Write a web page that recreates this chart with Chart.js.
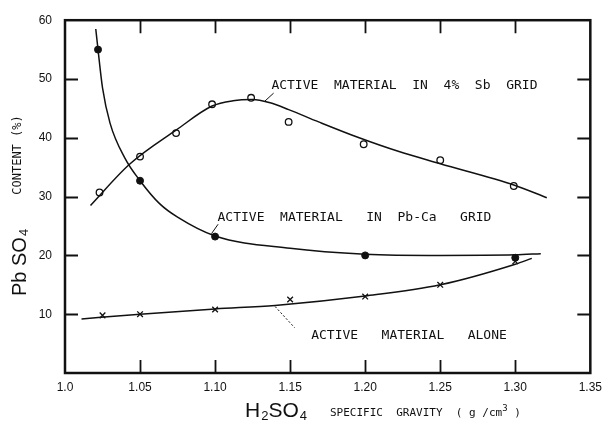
<!DOCTYPE html>
<html>
<head>
<meta charset="utf-8">
<script src="https://cdn.jsdelivr.net/npm/chart.js@4/dist/chart.umd.min.js"></script>
<style>
  html, body { margin: 0; padding: 0; background: #fff; }
  #c { display: block; }
</style>
</head>
<body>
<canvas id="c" width="609" height="423"></canvas>
<script>
// H2SO4 specific gravity (g/cm3) vs PbSO4 content (%)

// Measured points
const sbX = [1.023, 1.05, 1.074, 1.098, 1.124, 1.149, 1.199, 1.25, 1.299];
const sbY = [30.7, 36.8, 40.8, 45.7, 46.8, 42.7, 38.9, 36.2, 31.8];

const caX = [1.022, 1.05, 1.10, 1.20, 1.30];
const caY = [55.0, 32.7, 23.2, 20.0, 19.6];

const aloneX = [1.025, 1.05, 1.10, 1.15, 1.20, 1.25, 1.30];
const aloneY = [9.8, 10.0, 10.8, 12.5, 13.0, 15.0, 19.0];

// Hand-drawn trend curves through the points
const sbCurveX = [1.017, 1.043, 1.074, 1.098, 1.112, 1.125, 1.136, 1.149, 1.169, 1.196, 1.222, 1.25, 1.30, 1.321];
const sbCurveY = [28.5, 35.5, 41.3, 45.4, 46.3, 46.5, 46.0, 44.8, 42.7, 40.0, 37.7, 35.6, 31.9, 29.8];

const caCurveX = [1.0205, 1.022, 1.025, 1.03, 1.04, 1.05, 1.063, 1.075, 1.10, 1.15, 1.20, 1.25, 1.30, 1.317];
const caCurveY = [58.5, 55.0, 48.5, 42.5, 36.5, 32.7, 28.8, 26.5, 23.3, 21.2, 20.2, 20.0, 20.1, 20.3];

const aloneCurveX = [1.011, 1.05, 1.10, 1.14, 1.20, 1.25, 1.30, 1.311];
const aloneCurveY = [9.2, 10.0, 10.9, 11.5, 13.1, 15.0, 18.5, 19.5];

// Axis tick labels
const xTickLabels = ['1.0', '1.05', '1.10', '1.15', '1.20', '1.25', '1.30', '1.35'];
const yTickLabels = ['', '10', '20', '30', '40', '50', '60'];

// Curve labels (anchored in data units) and their leader lines
const curveLabels = [
  { text: 'ACTIVE  MATERIAL  IN  4%  Sb  GRID', x: 1.1375, y: 48.8, lead: [1.133, 46.2, 1.139, 47.6], dash: [] },
  { text: 'ACTIVE  MATERIAL   IN  Pb-Ca   GRID', x: 1.1016, y: 26.5, lead: [1.0976, 23.7, 1.102, 25.3], dash: [] },
  { text: 'ACTIVE   MATERIAL   ALONE', x: 1.164, y: 6.3, lead: [1.140, 11.3, 1.153, 7.7], dash: [2, 2] }
];

const toPts = (xs, ys) => xs.map((x, i) => ({ x: x, y: ys[i] }));

const INK = '#111';
const MONO = '"DejaVu Sans Mono", "Liberation Mono", monospace';
const SANS = '"Liberation Sans", "DejaVu Sans", Arial, sans-serif';

const framePlugin = {
  id: 'frameAndNotes',
  afterDraw(chart) {
    const ctx = chart.ctx;
    const a = chart.chartArea;
    const xs = chart.scales.x, ys = chart.scales.y;
    ctx.save();
    ctx.strokeStyle = INK;
    ctx.fillStyle = INK;

    // frame
    ctx.lineWidth = 2.5;
    ctx.strokeRect(a.left, a.top, a.right - a.left, a.bottom - a.top);

    // inward ticks on all four sides
    ctx.lineWidth = 1.8;
    const tl = 13;
    for (let v = 1.05; v < 1.349; v += 0.05) {
      const px = Math.round(xs.getPixelForValue(v)) + 0.5;
      ctx.beginPath();
      ctx.moveTo(px, a.bottom); ctx.lineTo(px, a.bottom - tl);
      ctx.moveTo(px, a.top); ctx.lineTo(px, a.top + tl);
      ctx.stroke();
    }
    for (let v = 10; v < 60; v += 10) {
      const py = Math.round(ys.getPixelForValue(v)) + 0.5;
      ctx.beginPath();
      ctx.moveTo(a.left, py); ctx.lineTo(a.left + tl, py);
      ctx.moveTo(a.right, py); ctx.lineTo(a.right - tl, py);
      ctx.stroke();
    }

    // curve labels and leader lines
    ctx.font = '13px ' + MONO;
    ctx.textBaseline = 'middle';
    ctx.textAlign = 'left';
    curveLabels.forEach(l => {
      ctx.fillText(l.text, xs.getPixelForValue(l.x), ys.getPixelForValue(l.y));
      ctx.lineWidth = 1;
      ctx.setLineDash(l.dash);
      ctx.beginPath();
      ctx.moveTo(xs.getPixelForValue(l.lead[0]), ys.getPixelForValue(l.lead[1]));
      ctx.lineTo(xs.getPixelForValue(l.lead[2]), ys.getPixelForValue(l.lead[3]));
      ctx.stroke();
      ctx.setLineDash([]);
    });

    // x axis title: H2SO4 SPECIFIC GRAVITY (g/cm3)
    let x = 245;
    const by = 417;
    ctx.textBaseline = 'alphabetic';
    const big = (t) => { ctx.font = '21px ' + SANS; ctx.fillText(t, x, by); x += ctx.measureText(t).width; };
    const sub = (t) => { ctx.font = '13px ' + SANS; ctx.fillText(t, x + 1, by + 3); x += ctx.measureText(t).width + 1; };
    big('H'); sub('2'); big('SO'); sub('4');
    ctx.font = '11px ' + MONO;
    ctx.fillText('SPECIFIC  GRAVITY  ( g /cm', 330, by - 1);
    let sx = 330 + ctx.measureText('SPECIFIC  GRAVITY  ( g /cm').width;
    ctx.font = '9px ' + MONO;
    ctx.fillText('3', sx, by - 6);
    sx += ctx.measureText('3').width;
    ctx.font = '11px ' + MONO;
    ctx.fillText(' )', sx, by - 1);

    // y axis title: PbSO4 CONTENT (%)
    ctx.translate(18, 0);
    ctx.rotate(-Math.PI / 2);
    ctx.textBaseline = 'middle';
    ctx.font = '12px ' + MONO;
    ctx.textAlign = 'center';
    ctx.fillText('CONTENT (%)', -155, 0);
    ctx.textAlign = 'left';
    let yy = -296;
    ctx.font = '20px ' + SANS;
    ctx.fillText('Pb SO', yy, 2);
    yy += ctx.measureText('Pb SO').width;
    ctx.font = '13px ' + SANS;
    ctx.fillText('4', yy + 1, 6);
    ctx.restore();
  }
};

new Chart(document.getElementById('c'), {
  type: 'scatter',
  data: {
    datasets: [
      { data: toPts(sbCurveX, sbCurveY), showLine: true, pointRadius: 0, borderColor: INK, borderWidth: 1.5, cubicInterpolationMode: 'monotone' },
      { data: toPts(caCurveX, caCurveY), showLine: true, pointRadius: 0, borderColor: INK, borderWidth: 1.5, cubicInterpolationMode: 'monotone' },
      { data: toPts(aloneCurveX, aloneCurveY), showLine: true, pointRadius: 0, borderColor: INK, borderWidth: 1.5, cubicInterpolationMode: 'monotone' },
      { data: toPts(sbX, sbY), pointStyle: 'circle', pointRadius: 3.3, pointBorderWidth: 1.3, pointBorderColor: INK, pointBackgroundColor: '#fff' },
      { data: toPts(caX, caY), pointStyle: 'circle', pointRadius: 3.5, pointBorderWidth: 1, pointBorderColor: INK, pointBackgroundColor: INK },
      { data: toPts(aloneX, aloneY), pointStyle: 'crossRot', pointRadius: 4, pointBorderWidth: 1.3, pointBorderColor: INK }
    ]
  },
  options: {
    responsive: false,
    animation: false,
    devicePixelRatio: 1,
    layout: { padding: { top: 13, right: 17, left: 0, bottom: 0 } },
    plugins: { legend: { display: false }, tooltip: { enabled: false } },
    scales: {
      x: {
        type: 'linear', min: 1.0, max: 1.35,
        afterFit: (s) => { s.height = 50; },
        grid: { display: false, drawTicks: false },
        border: { display: false },
        ticks: {
          stepSize: 0.05, padding: 7, color: INK, maxRotation: 0,
          font: { family: SANS, size: 12 },
          callback: (v, i) => xTickLabels[i]
        }
      },
      y: {
        type: 'linear', min: 0, max: 60,
        afterFit: (s) => { s.width = 65; },
        grid: { display: false, drawTicks: false },
        border: { display: false },
        ticks: {
          stepSize: 10, padding: 13, color: INK,
          font: { family: SANS, size: 12 },
          callback: (v, i) => yTickLabels[i]
        }
      }
    }
  },
  plugins: [framePlugin]
});
</script>
</body>
</html>
